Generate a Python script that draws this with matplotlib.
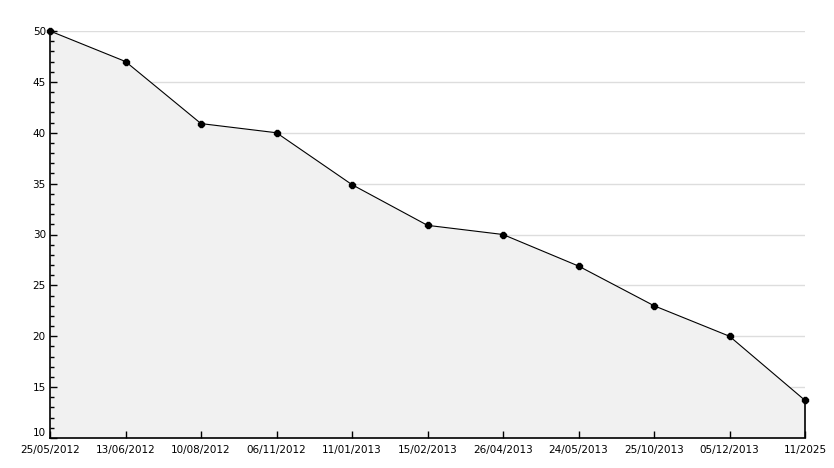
import matplotlib.pyplot as plt
import numpy as np

dates = ['25/05/2012', '13/06/2012', '10/08/2012', '06/11/2012', '11/01/2013',
         '15/02/2013', '26/04/2013', '24/05/2013', '25/10/2013', '05/12/2013', '11/2025']
values = [50, 47, 40.9, 40, 34.9, 30.9, 30, 26.9, 23, 20, 13.7]

fig = plt.figure(figsize=(8.34, 4.68), dpi=100)
ax = fig.add_axes([50 / 834, 30 / 468, 755 / 834, 407 / 468])

x = np.arange(len(values))
ax.fill_between(x, values, 10, color='#f1f1f1', lw=0, zorder=1)
ax.plot(x, values, color='black', lw=0.8, zorder=3, clip_on=False)
ax.plot(x, values, ls='none', marker='8', ms=5, color='black', zorder=4, clip_on=False)
ax.vlines(x[-1], 10, values[-1], color='black', lw=1.2, zorder=3, clip_on=False)

for y in range(15, 55, 5):
    ax.axhline(y, color='#dddddd', lw=1, zorder=0.5)

ax.set_xlim(0, len(values) - 1)
ax.set_ylim(10, 50)
ax.set_xticks(x)
ax.set_xticklabels(dates)
ax.set_yticks(range(10, 55, 5))
ax.set_yticks(range(10, 51), minor=True)

for s in ['top', 'right']:
    ax.spines[s].set_visible(False)
for s in ['left', 'bottom']:
    ax.spines[s].set_linewidth(1.2)

ax.tick_params(axis='x', direction='in', length=5, width=1, labelsize=7.5, pad=5)
ax.tick_params(axis='y', which='major', direction='in', length=5, width=1, labelsize=7.5, pad=3)
ax.tick_params(axis='y', which='minor', direction='in', length=3, width=1)
ax.xaxis.set_tick_params(which='minor', bottom=False)

# nudge the bottom y label up a bit so it clears the first date, as in the original
ax.get_yticklabels()[0].set_verticalalignment('bottom')
ax.get_yticklabels()[0].set_y(10)

fig.savefig('out.png', dpi=100)
